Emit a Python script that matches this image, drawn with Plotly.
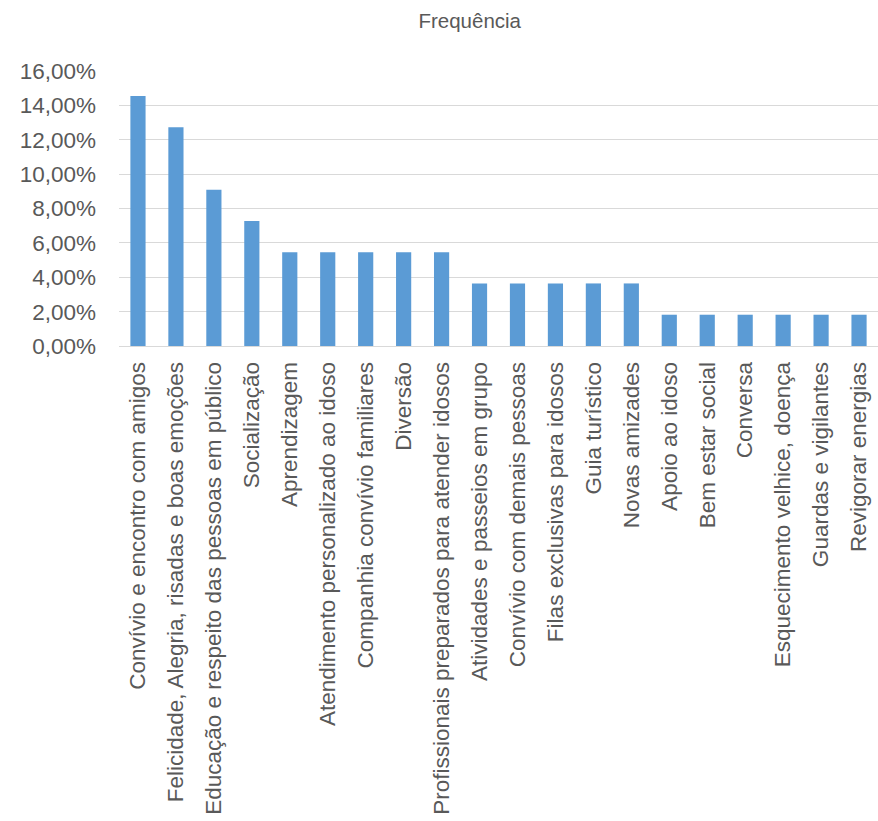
import plotly.graph_objects as go

categories = [
    "Convívio e encontro com amigos",
    "Felicidade, Alegria, risadas e boas emoções",
    "Educação e respeito das pessoas em público",
    "Socialização",
    "Aprendizagem",
    "Atendimento personalizado ao idoso",
    "Companhia convívio familiares",
    "Diversão",
    "Profissionais preparados para atender idosos",
    "Atividades e passeios em grupo",
    "Convívio com demais pessoas",
    "Filas exclusivas para idosos",
    "Guia turístico",
    "Novas amizades",
    "Apoio ao idoso",
    "Bem estar social",
    "Conversa",
    "Esquecimento velhice, doença",
    "Guardas e vigilantes",
    "Revigorar energias",
]
values = [0.1455, 0.1273, 0.0909, 0.0727,
          0.0545, 0.0545, 0.0545, 0.0545, 0.0545,
          0.0364, 0.0364, 0.0364, 0.0364, 0.0364,
          0.0182, 0.0182, 0.0182, 0.0182, 0.0182, 0.0182]
y_ticks = [0, 0.02, 0.04, 0.06, 0.08, 0.10, 0.12, 0.14, 0.16]

font_family = "Liberation Sans, Arial, sans-serif"
text_color = "#595959"

fig = go.Figure(go.Bar(x=categories, y=values, marker_color="#5B9BD5",
                       marker_line_width=0))
fig.update_layout(
    width=878, height=821,
    margin=dict(l=119, r=0, t=71, b=475),
    paper_bgcolor="white", plot_bgcolor="white",
    separators=",.",
    bargap=0.6,
    showlegend=False,
    font=dict(family=font_family, color=text_color),
    title=dict(text="Frequência", x=0.535, xanchor="center", y=0.975, yanchor="middle",
               font=dict(size=20.5, color=text_color, family=font_family)),
)
fig.update_yaxes(range=[0, 0.16], tickvals=y_ticks, tickformat=".2%",
                 showgrid=True, gridcolor="#D9D9D9", gridwidth=1,
                 zeroline=False, showline=False, ticks="",
                 tickfont=dict(size=22.5, color=text_color), ticklabelstandoff=22)
fig.update_xaxes(tickangle=-90, showline=True, linecolor="#D9D9D9", linewidth=1,
                 ticks="", tickfont=dict(size=22.5, color=text_color),
                 ticklabelstandoff=6)
fig.write_html("out.html")
